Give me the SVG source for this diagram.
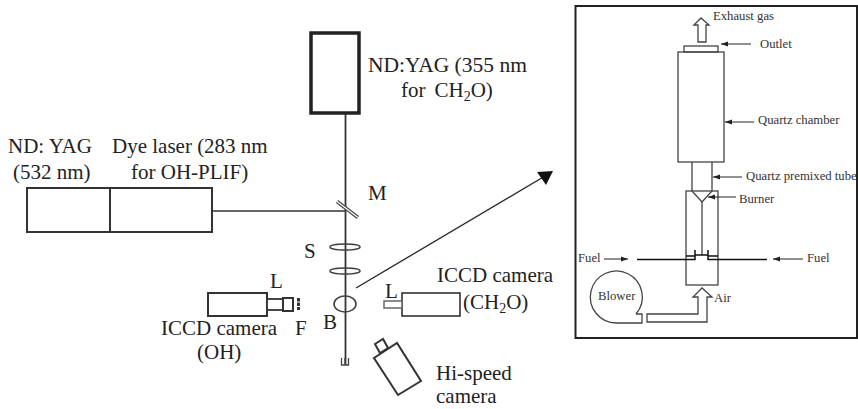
<svg xmlns="http://www.w3.org/2000/svg" width="858" height="409" viewBox="0 0 858 409">
<defs>
<marker id="sm" markerUnits="userSpaceOnUse" markerWidth="8" markerHeight="6" refX="7" refY="3" orient="auto"><path d="M0,0.500 L7,3 L0,5.500 Z" fill="#222"/></marker>
</defs>
<style>
text{font-family:"Liberation Serif","Times New Roman",serif;fill:#222}
.t{font-size:21px}
.s{font-size:12.700px;fill:#333}
.l{fill:none;stroke:#222;stroke-width:1.300}
.g{fill:none;stroke:#444;stroke-width:1.300}
.b{fill:#fff;stroke:#333;stroke-width:2}
.a{fill:none;stroke:#222;stroke-width:1;marker-end:url(#sm)}
</style>
<rect width="858" height="409" fill="#fff"/>
<g id="connectors">
<path d="M345.500,113V365" style="fill:none;stroke:#333;stroke-width:1.800"/>
<path d="M212,211H345" style="fill:none;stroke:#333;stroke-width:1.300"/>
<path d="M356,288L545,176" style="fill:none;stroke:#222;stroke-width:1.300"/>
<path d="M537,172L553,171L546,185Z" fill="#111"/>
</g>
<g id="yag355"><rect x="311" y="33" width="48" height="80" fill="#fff" stroke="#222" stroke-width="3.500"/><text x="368" y="72" style="font-size:21.500px">ND:YAG (355 nm</text><text class="t" x="401" y="97">for<tspan dx="9">CH</tspan><tspan font-size="14" dy="4">2</tspan><tspan dy="-4">O)</tspan></text></g>
<g id="yag532"><rect x="27" y="188" width="83" height="44" class="b"/><text class="t" x="8" y="153">ND: YAG</text><text class="t" x="13" y="179">(532 nm)</text></g>
<g id="dye"><rect x="110" y="188" width="102" height="44" class="b"/><text class="t" x="112" y="153">Dye laser (283 nm</text><text class="t" x="131" y="179">for OH-PLIF)</text></g>
<g id="mirror"><path d="M337,201.500L358,217.500" stroke="#444" stroke-width="3.500" fill="none"/><path d="M337,201.500L358,217.500" stroke="#fff" stroke-width="1.300" fill="none"/><text class="t" x="368" y="200">M</text></g>
<g id="lenses"><ellipse cx="345" cy="247" rx="15" ry="3" class="g" style="stroke-width:1.500"/><ellipse cx="345" cy="271" rx="15" ry="3" class="g" style="stroke-width:1.500"/><text class="t" x="304" y="258">S</text></g>
<g id="burner-spot"><ellipse cx="345" cy="304" rx="11" ry="8" class="g" style="stroke-width:1.600"/><text class="t" x="323" y="329">B</text><path d="M341.500,358V365H348.500V358M345,358V365" class="g"/></g>
<g id="iccd-oh"><rect x="208" y="293" width="59" height="23" class="b"/><rect x="267" y="299" width="16" height="11" class="b" style="stroke-width:1.800"/><rect x="283" y="298" width="10" height="13" class="b"/><path d="M298.500,298V310" stroke="#333" stroke-width="3" stroke-dasharray="3.500 1" fill="none"/><text class="t" x="270" y="288">L</text><text class="t" x="295" y="335">F</text><text class="t" x="161" y="335">ICCD camera</text><text class="t" x="197" y="359">(OH)</text></g>
<g id="iccd-ch2o"><rect x="402" y="293" width="58" height="23" class="b" style="stroke-width:1.600"/><rect x="384" y="301" width="18" height="7" class="b" style="stroke:#666;stroke-width:1.500"/><text class="t" x="385" y="298">L</text><text class="t" x="437" y="282">ICCD camera</text><text class="t" x="463" y="309">(CH<tspan font-size="14" dy="4">2</tspan><tspan dy="-4">O)</tspan></text></g>
<g id="hispeed"><path d="M374,358L397,343L421,381L398,395Z" class="b"/><path d="M375,344L383,339L388,348L380,353Z" class="b"/><text class="t" x="436" y="380">Hi-speed</text><text class="t" x="436" y="403">camera</text></g>
<g id="inset">
<rect x="575.500" y="6" width="281.500" height="332" fill="#fff" stroke="#222" stroke-width="2"/>
<g id="reactor">
<path d="M694,25L701,18L709,25H706V42H698V25Z" class="g"/>
<rect x="684" y="46" width="34" height="6" class="g"/>
<rect x="678" y="52" width="46" height="110" class="g"/>
<path d="M692,162V191L702,202L712,191V162" class="g"/>
<rect x="686" y="191" width="32" height="94" class="g"/>
<path d="M702,202V255" class="g"/>
<path d="M637,259.500H695V250M708,250V259.500H767M695,255H708M686,256H695M708,256H718" class="l" style="stroke:#111;stroke-width:1.500"/>
</g>
<g id="blower"><path d="M636,314A26,26 0 1 0 617,323H642V314H636" class="g"/><path d="M647,314H698V297H693L702,288L712,297H707V322H647Z" class="g"/><text class="s" x="598" y="300">Blower</text><text class="s" x="714" y="302">Air</text></g>
<g id="labels">
<path d="M751,44H721" class="a"/><path d="M754,122H725" class="a"/><path d="M742,177H713" class="a"/><path d="M736,197H708" class="a"/><path d="M604,259H628" class="a"/><path d="M803,259H773" class="a"/>
<text class="s" x="713" y="20">Exhaust gas</text><text class="s" x="760" y="48">Outlet</text><text class="s" x="758" y="124">Quartz chamber</text><text class="s" x="746" y="180">Quartz premixed tube</text><text class="s" x="739" y="203">Burner</text><text class="s" x="578" y="262">Fuel</text><text class="s" x="807" y="262">Fuel</text>
</g>
</g>
</svg>
